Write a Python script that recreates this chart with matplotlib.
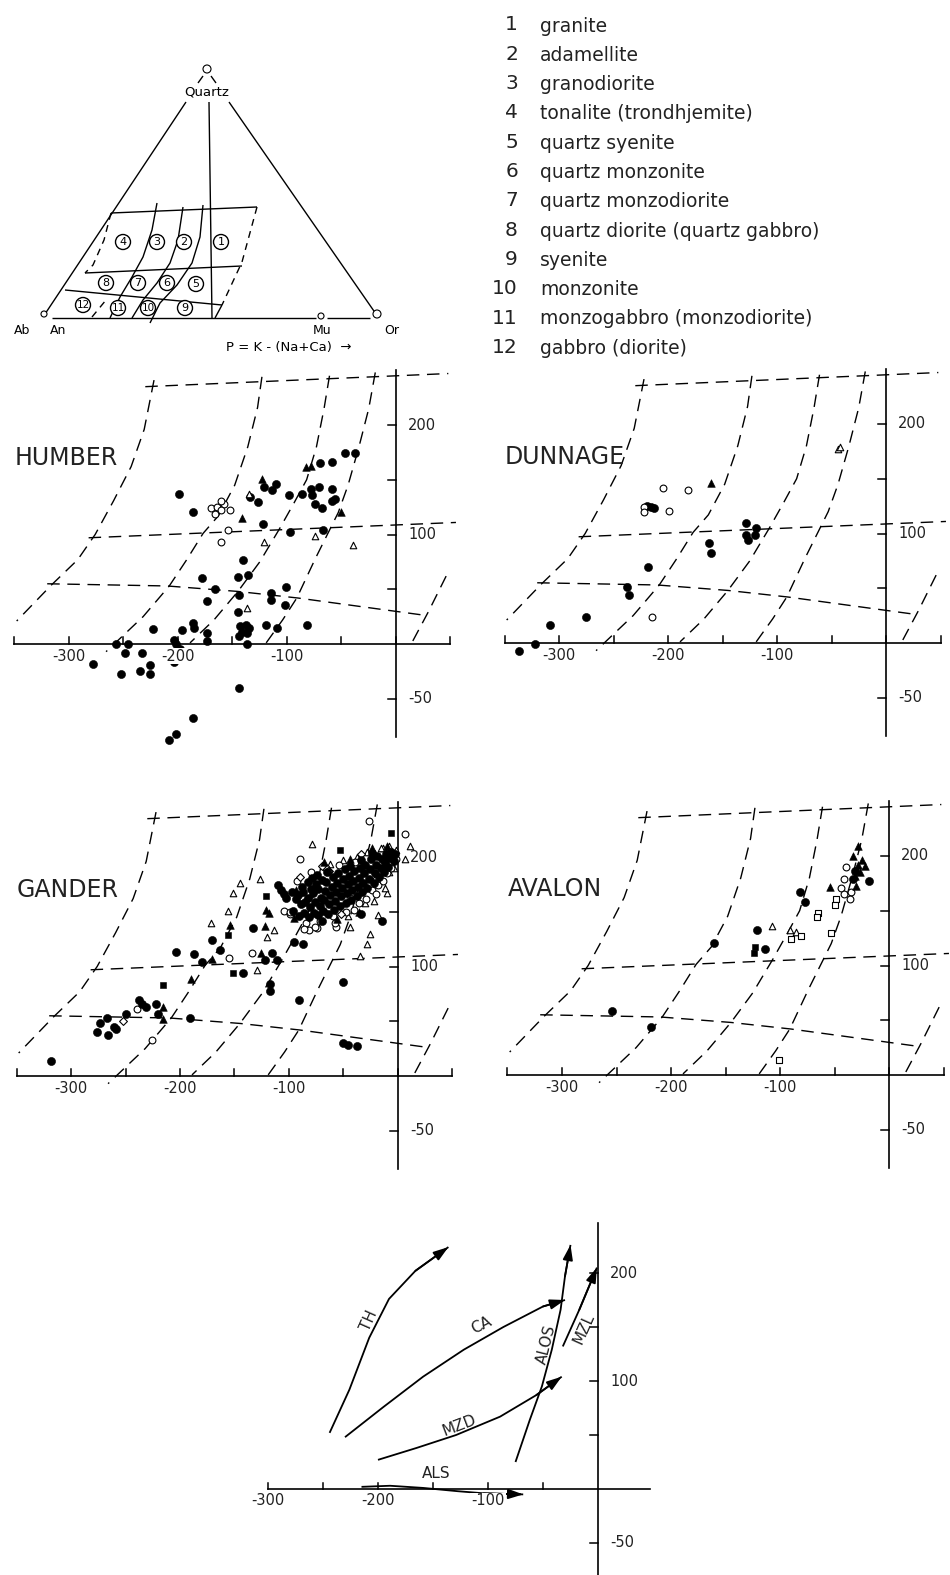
import matplotlib
matplotlib.use("Agg")
import matplotlib.pyplot as plt
from matplotlib.patches import Circle

W, H, DPI = 950, 1575, 100

# ---------------- legend (rock names) ----------------
legend_nums = ["1", "2", "3", "4", "5", "6", "7", "8", "9", "10", "11", "12"]
legend_names = ["granite", "adamellite", "granodiorite", "tonalite (trondhjemite)",
                "quartz syenite", "quartz monzonite", "quartz monzodiorite",
                "quartz diorite (quartz gabbro)", "syenite", "monzonite",
                "monzogabbro (monzodiorite)", "gabbro (diorite)"]

# ---------------- P-Q grid (data units, shared by the four panels) ----------------
grid_top = [(-230, 235), (48, 247)]
grid_mid = [(-282, 97), (55, 111)]
grid_low = [(-320, 55), (-210, 53), (-145, 48), (-90, 42), (28, 26)]
grid_A = [(-222, 241), (-231, 196), (-243, 162), (-259, 131), (-276, 100), (-292, 77), (-316, 54), (-348, 21)]
grid_B = [(-123, 244), (-127, 216), (-136, 180), (-148, 145), (-163, 117), (-177, 101), (-192, 77), (-208, 53), (-232, 25), (-266, -7)]
grid_C = [(-61, 245), (-66, 215), (-73, 180), (-82, 150), (-94, 128), (-107, 105), (-125, 75), (-145, 48), (-167, 22), (-189, 1)]
grid_D = [(-19, 248), (-25, 215), (-34, 180), (-44, 145), (-53, 120), (-60, 106), (-74, 78), (-91, 42), (-104, 22), (-122, -3)]
grid_E = [(46, 62), (30, 30), (15, 2)]

x_ticks = [-350, -300, -250, -200, -150, -100, -50, 0, 50]
x_ticklabels = {-300: "-300", -200: "-200", -100: "-100"}
y_ticks = [-50, 50, 100, 150, 200]
y_ticklabels = {200: "200", 100: "100", -50: "-50"}

# ---------------- HUMBER ----------------
humber_fc = [(-199, 137), (-186, 121), (-140, 77), (-145, 61), (-136, 63), (-178, 60), (-166, 50), (-173, 39),
             (-144, 45), (-145, 29), (-115, 47), (-115, 40), (-101, 52), (-102, 36), (-186, 19), (-185, 15),
             (-196, 13), (-223, 14), (-173, 10), (-173, 3), (-143, 16), (-138, 17), (-135, 15), (-141, 11),
             (-137, 10), (-144, 7), (-137, 0), (-119, 17), (-109, 15), (-82, 17), (-257, 0), (-246, 0),
             (-204, 4), (-202, 0), (-198, -5), (-249, -8), (-233, -8), (-212, -9), (-204, -16), (-278, -18),
             (-252, -27), (-235, -25), (-226, -19), (-226, -27), (-144, -40), (-186, -68), (-202, -82),
             (-208, -88), (-121, 143), (-110, 146), (-114, 141), (-134, 134), (-127, 130), (-98, 136),
             (-86, 137), (-78, 142), (-77, 136), (-71, 143), (-74, 128), (-68, 124), (-59, 142), (-59, 131),
             (-56, 132), (-70, 165), (-59, 166), (-47, 174), (-38, 174), (-122, 110), (-97, 102), (-67, 104)]
humber_oc = [(-170, 124), (-164, 125), (-158, 128), (-161, 122), (-152, 122), (-166, 119), (-161, 131),
             (-161, 93), (-154, 104)]
humber_ft = [(-83, 162), (-78, 163), (-141, 115), (-50, 121), (-123, 151)]
humber_ot = [(-121, 93), (-74, 99), (-39, 90), (-137, 33), (-135, 137)]

# ---------------- DUNNAGE ----------------
dunnage_fc = [(-337, -7), (-322, -1), (-308, 16), (-275, 24), (-238, 51), (-236, 44), (-218, 69), (-162, 91),
              (-161, 82), (-128, 110), (-119, 105), (-128, 99), (-127, 94), (-120, 99), (-219, 125),
              (-216, 124), (-213, 123)]
dunnage_oc = [(-205, 142), (-182, 140), (-199, 121), (-215, 24), (-222, 124), (-222, 120)]
dunnage_ft = [(-161, 146)]
dunnage_ot = [(-44, 177), (-42, 179)]

# ---------------- GANDER ----------------
gander_fc = [(-318, 14), (-276, 40), (-273, 48), (-267, 53), (-266, 37), (-261, 45), (-259, 43), (-250, 57),
             (-238, 69), (-235, 66), (-231, 63), (-222, 66), (-220, 57), (-191, 53), (-204, 113), (-187, 111),
             (-180, 104), (-171, 124), (-163, 115), (-133, 135), (-142, 94), (-122, 106), (-116, 112),
             (-111, 106), (-117, 84), (-117, 78), (-91, 69), (-50, 86), (-50, 30), (-46, 28), (-38, 27),
             (-95, 122), (-87, 121), (-70, 142), (-34, 148), (-15, 142), (-110, 174), (-107, 170),
             (-105, 166), (-103, 163),
             (-96, 151), (-94, 162), (-97, 168), (-91, 146), (-89, 157), (-92, 165), (-88, 173),
             (-86, 149), (-85, 159), (-87, 168), (-83, 177), (-82, 145), (-81, 154), (-83, 163), (-80, 171),
             (-79, 181), (-77, 149), (-76, 159), (-78, 167), (-75, 175), (-74, 184), (-73, 147), (-72, 155),
             (-71, 163), (-73, 171), (-70, 179), (-69, 151), (-68, 161), (-67, 169), (-66, 177), (-65, 186),
             (-64, 148), (-63, 157), (-62, 165), (-61, 173), (-60, 182), (-59, 152), (-58, 160), (-57, 168),
             (-56, 176), (-55, 185), (-53, 155), (-52, 164), (-51, 172), (-50, 180), (-49, 189), (-48, 158),
             (-47, 167), (-46, 175), (-45, 183), (-44, 192), (-43, 161), (-42, 170), (-41, 178), (-40, 187),
             (-38, 164), (-37, 173), (-36, 181), (-35, 190), (-34, 197), (-33, 168), (-32, 176), (-31, 185),
             (-30, 193), (-28, 172), (-27, 180), (-26, 189), (-25, 198), (-24, 204), (-22, 176), (-21, 185),
             (-20, 193), (-19, 201), (-17, 182), (-16, 190), (-15, 198), (-13, 186), (-12, 195), (-11, 203),
             (-9, 191), (-8, 199), (-6, 205), (-4, 196), (-3, 203)]
gander_oc = [(-27, 233), (6, 221), (-90, 198), (-105, 151), (-99, 148), (-82, 133), (-74, 135), (-57, 136),
             (-134, 112), (-155, 108), (-239, 61), (-226, 33),
             (-99, 150), (-93, 178), (-84, 140), (-80, 186), (-72, 142), (-66, 190), (-60, 146), (-54, 193),
             (-48, 150), (-44, 163), (-39, 195), (-36, 158), (-29, 162), (-24, 170), (-18, 174), (-14, 178),
             (-10, 185), (-6, 190), (-2, 198), (-20, 166), (-86, 134), (-76, 136), (-58, 140), (-40, 152)]
gander_ft = [(-216, 63), (-216, 52), (-190, 89), (-171, 107), (-154, 138), (-121, 152), (-118, 149),
             (-122, 137), (-126, 112), (-95, 144),
             (-94, 170), (-68, 195), (-44, 198), (-36, 150), (-24, 208), (-10, 210), (-56, 143)]
gander_ot = [(-79, 212), (-127, 180), (-145, 176), (-151, 167), (-156, 151), (-172, 140), (-114, 133),
             (-120, 127), (-129, 97), (-44, 136), (-28, 121), (-26, 130), (-35, 110), (-18, 147), (-10, 167),
             (-8, 210), (11, 210), (6, 198), (-14, 208),
             (-62, 194), (-50, 197), (-38, 200), (-28, 205), (-16, 208), (-8, 186), (-4, 190), (-12, 172),
             (-30, 158), (-46, 146), (-22, 160), (-2, 206)]
gander_fs = [(-216, 83), (-156, 129), (-121, 164), (-6, 222), (-53, 206), (-151, 94)]
gander_od = [(-63, 187), (-252, 50), (-90, 182), (-70, 192), (-52, 148), (-34, 203), (-20, 180), (-64, 187)]

# ---------------- AVALON ----------------
avalon_fc = [(-254, 58), (-218, 44), (-161, 121), (-121, 132), (-114, 115), (-82, 167), (-77, 158),
             (-33, 179), (-18, 177), (-31, 186)]
avalon_fs = [(-123, 117), (-124, 111)]
avalon_ot = [(-107, 136), (-91, 132), (-85, 131)]
avalon_os = [(-90, 124), (-81, 127), (-65, 148), (-66, 144), (-49, 161), (-50, 155), (-53, 130), (-101, 14)]
avalon_oc = [(-39, 190), (-41, 179), (-44, 171), (-41, 165), (-35, 167), (-36, 161)]
avalon_ft = [(-28, 209), (-33, 200), (-28, 192), (-22, 191), (-31, 182), (-30, 173), (-54, 172),
             (-27, 185), (-25, 196)]

# ---------------- trend summary (bottom panel) ----------------
trend_TH = [(-244, 52), (-226, 92), (-208, 140), (-190, 176), (-166, 202), (-136, 224)]
trend_CA = [(-230, 48), (-195, 76), (-159, 104), (-122, 129), (-86, 150), (-50, 169), (-30, 175)]
trend_ALOS = [(-75, 25), (-62, 64), (-51, 95), (-42, 129), (-34, 166), (-30, 197), (-25, 226)]
trend_MZL = [(-32, 132), (-17, 166), (-1, 205)]
trend_MZD = [(-200, 27), (-165, 38), (-129, 50), (-89, 67), (-56, 87), (-33, 104)]
trend_ALS = [(-215, 2), (-189, 3), (-159, 1), (-128, -2), (-104, -4), (-68, -5)]
trend_labels = [("TH", -208, 156, 66), ("CA", -106, 152, 27), ("ALOS", -47, 134, 76),
                ("MZL", -13, 149, 66), ("MZD", -126, 59, 21), ("ALS", -147, 14, 0)]

# ---------------- figure ----------------
fig = plt.figure(figsize=(W / DPI, H / DPI), dpi=DPI)
fig.patch.set_facecolor("white")
bg = fig.add_axes([0, 0, 1, 1])
bg.set_xlim(0, W)
bg.set_ylim(H, 0)
bg.axis("off")
K = "black"


def line(ax, pts, **kw):
    ax.plot([p[0] for p in pts], [p[1] for p in pts], color=K, solid_capstyle="butt", **kw)


# ----- ternary sketch (pixel coordinates) -----
tern_solid = [
    [(45, 314), (186, 102)], [(376, 314), (229, 102)], [(209, 102), (212, 318)],
    [(52, 318), (316, 318)], [(327, 318), (370, 318)],
    [(203, 76), (198, 83)], [(211, 76), (216, 83)],
    [(111, 213), (257, 207)], [(85, 273), (242, 266)], [(65, 290), (222, 305)], [(222, 305), (215, 318)],
    [(157, 203), (152, 230), (143, 257), (132, 277), (120, 297), (110, 318)],
    [(183, 207), (178, 240), (170, 263), (157, 283), (143, 300), (132, 318)],
    [(203, 205), (200, 237), (192, 263), (177, 285), (160, 303), (150, 323)],
]
tern_dashed = [
    [(257, 207), (242, 262), (222, 305)],
    [(111, 213), (104, 240), (93, 265), (85, 273)],
    [(92, 317), (106, 300)],
]
for seg in tern_solid:
    line(bg, seg, lw=1.0)
for seg in tern_dashed:
    line(bg, seg, lw=1.0, linestyle=(0, (5, 4)))
for (cx, cy, r) in [(207, 69, 4), (44, 314, 3), (321, 316, 3), (377, 314, 4)]:
    bg.add_patch(Circle((cx, cy), r, fill=True, facecolor="white", edgecolor=K, lw=0.8, zorder=3))
field_pos = {"4": (123, 242), "3": (157, 242), "2": (184, 242), "1": (221, 242),
             "8": (106, 283), "7": (138, 283), "6": (167, 283), "5": (196, 284),
             "12": (83, 305), "11": (118, 308), "10": (148, 308), "9": (185, 308)}
for lab, (cx, cy) in field_pos.items():
    bg.add_patch(Circle((cx, cy), 7.5, fill=True, facecolor="white", edgecolor=K, lw=1.0, zorder=3))
    bg.text(cx, cy, lab, ha="center", va="center", fontsize=7.5 if len(lab) > 1 else 8, zorder=4)
bg.text(207, 92, "Quartz", ha="center", va="center", fontsize=9.5)
bg.text(22, 331, "Ab", ha="center", va="center", fontsize=9)
bg.text(58, 331, "An", ha="center", va="center", fontsize=9)
bg.text(322, 331, "Mu", ha="center", va="center", fontsize=9)
bg.text(392, 331, "Or", ha="center", va="center", fontsize=9)
bg.text(289, 347, "P = K - (Na+Ca)  \u2192", ha="center", va="center", fontsize=9.5)

# ----- legend list -----
for i, (n, name) in enumerate(zip(legend_nums, legend_names)):
    yy = 25 + 29.3 * i
    bg.text(518, yy, n, ha="right", va="center", fontsize=14.5, color="#222222")
    bg.text(540, yy + 1, name, ha="left", va="center", fontsize=13.5, color="#222222")


# ----- panels -----
def make_panel(ox, oy, sx, sy, xlim, ylim):
    l = ox + sx * xlim[0]
    r = ox + sx * xlim[1]
    t = oy - sy * ylim[1]
    b = oy - sy * ylim[0]
    ax = fig.add_axes([l / W, 1 - b / H, (r - l) / W, (b - t) / H])
    ax.set_xlim(*xlim)
    ax.set_ylim(*ylim)
    ax.axis("off")
    return ax


def draw_axes(ax, xr, yr, xt, yt):
    ax.plot(xr, [0, 0], color=K, lw=1.2)
    ax.plot([0, 0], yr, color=K, lw=1.2)
    for t in xt:
        ax.plot([t, t], [0, 6], color=K, lw=1.1)
    for t in yt:
        ax.plot([-7, 0], [t, t], color=K, lw=1.1)
    for t, s in x_ticklabels.items():
        ax.text(t, -11, s, ha="center", va="center", fontsize=10.5, color="#222222",
                bbox=dict(facecolor="white", edgecolor="none", pad=0.6), zorder=6)
    for t, s in y_ticklabels.items():
        ax.text(11, t, s, ha="left", va="center", fontsize=10.5, color="#222222")


STY = {
    "fc": dict(marker="o", s=34, facecolors=K, edgecolors=K, linewidths=0.4),
    "oc": dict(marker="o", s=24, facecolors="white", edgecolors=K, linewidths=0.8),
    "ft": dict(marker="^", s=30, facecolors=K, edgecolors=K, linewidths=0.4),
    "ot": dict(marker="^", s=22, facecolors="white", edgecolors=K, linewidths=0.8),
    "fs": dict(marker="s", s=24, facecolors=K, edgecolors=K, linewidths=0.4),
    "os": dict(marker="s", s=18, facecolors="white", edgecolors=K, linewidths=0.8),
    "od": dict(marker="D", s=16, facecolors="white", edgecolors=K, linewidths=0.8),
}


def pts_scatter(ax, pts, kind):
    ax.scatter([p[0] for p in pts], [p[1] for p in pts], zorder=4, clip_on=False, **STY[kind])


panels = [
    ("HUMBER", 396, 644, {"fc": humber_fc, "oc": humber_oc, "ft": humber_ft, "ot": humber_ot}),
    ("DUNNAGE", 886, 643, {"fc": dunnage_fc, "oc": dunnage_oc, "ft": dunnage_ft, "ot": dunnage_ot}),
    ("GANDER", 398, 1076, {"ot": gander_ot, "oc": gander_oc, "od": gander_od, "fc": gander_fc,
                           "ft": gander_ft, "fs": gander_fs}),
    ("AVALON", 889, 1075, {"fc": avalon_fc, "fs": avalon_fs, "ot": avalon_ot, "os": avalon_os,
                           "oc": avalon_oc, "ft": avalon_ft}),
]
DASH = (0, (9, 5.5))
for name, ox, oy, sets in panels:
    ax = make_panel(ox, oy, 1.09, 1.095, (-362, 62), (-90, 256))
    for g in [grid_top, grid_mid, grid_low, grid_A, grid_B, grid_C, grid_D, grid_E]:
        line(ax, g, lw=1.0, linestyle=DASH)
    draw_axes(ax, [-350, 50], [-85, 250], x_ticks, y_ticks)
    for kind, pts in sets.items():
        pts_scatter(ax, pts, kind)
    ax.text(-350, 170, name, ha="left", va="center", fontsize=17, color="#222222")

# ----- bottom trend panel -----
axb = make_panel(598, 1489, 1.1, 1.08, (-320, 60), (-82, 252))
draw_axes(axb, [-300, 47], [-82, 246], [-300, -250, -200, -150, -100, -50], y_ticks)
for tr in [trend_TH, trend_CA, trend_ALOS, trend_MZL, trend_MZD, trend_ALS]:
    line(axb, tr, lw=1.3, zorder=3)
    axb.annotate("", xy=tr[-1], xytext=tr[-2],
                 arrowprops=dict(arrowstyle="-|>,head_length=0.9,head_width=0.3", color=K, lw=1.3,
                                 shrinkA=0, shrinkB=0), zorder=3)
for lab, x, y, rot in trend_labels:
    axb.text(x, y, lab, ha="center", va="center", rotation=rot, fontsize=11, color="#222222",
             rotation_mode="anchor")

fig.savefig("out.png", dpi=DPI, facecolor="white")
